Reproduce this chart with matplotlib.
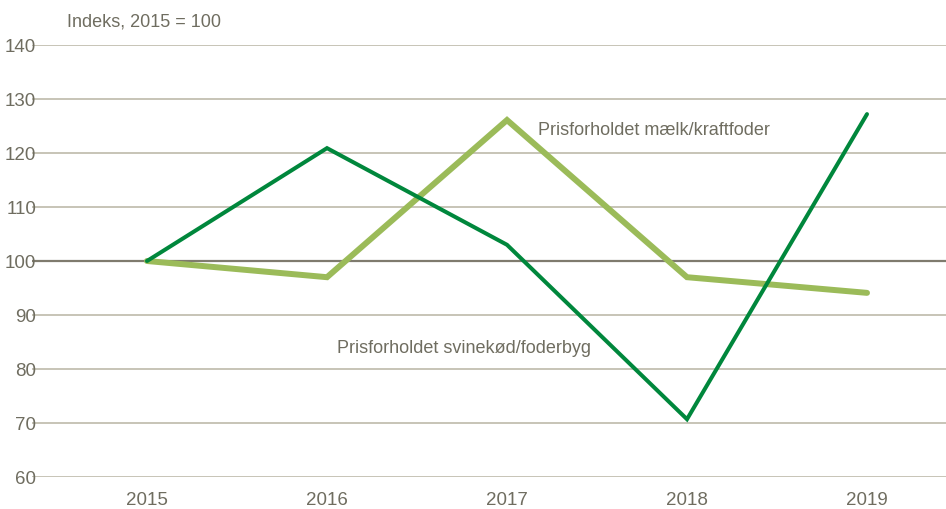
import matplotlib
matplotlib.use("Agg")
import matplotlib.pyplot as plt
from matplotlib import font_manager

years = [2015, 2016, 2017, 2018, 2019]
svinekoed_foderbyg = [100, 120.9, 103.0, 70.7, 127.2]
maelk_kraftfoder = [100, 97.0, 126.1, 97.0, 94.1]
y_ticks = [60, 70, 80, 90, 100, 110, 120, 130, 140]

installed = {f.name for f in font_manager.fontManager.ttflist}
family = "Liberation Sans Narrow" if "Liberation Sans Narrow" in installed else "Liberation Sans"
plt.rcParams['font.family'] = [family, 'DejaVu Sans']

text_color = '#6f6d60'
grid_color = '#b8b4a3'
dark_green = '#00873c'
light_green = '#9bbb59'

fig = plt.figure(figsize=(9.46, 5.10), dpi=100)
ax = fig.add_axes([32 / 946, 1 - 478 / 510, 1 - 32 / 946, (478 - 46) / 510])

ax.set_ylim(60, 140)
ax.set_xlim(2015 - 115 / 180, 2019 + 79 / 180)
ax.set_yticks(y_ticks)
ax.set_xticks(years)
ax.set_xticklabels([str(y) for y in years])

for v in y_ticks:
    if v == 100:
        ax.axhline(v, color='#7f7b6e', lw=1.6, zorder=1)
    else:
        ax.axhline(v, color=grid_color, lw=1.1, zorder=1)

ax.plot(years, svinekoed_foderbyg, color=dark_green, lw=2.9, zorder=3,
        solid_joinstyle='miter', solid_capstyle='round')
ax.plot(years, maelk_kraftfoder, color=light_green, lw=4.3, zorder=2,
        solid_joinstyle='miter', solid_capstyle='round')

for s in ax.spines.values():
    s.set_visible(False)
ax.tick_params(axis='both', length=0, labelsize=13.5, colors=text_color)
ax.tick_params(axis='y', pad=-3)
ax.tick_params(axis='x', pad=10)

fig.text(67 / 946, 1 - 22 / 510, 'Indeks, 2015 = 100', color=text_color,
         fontsize=13, va='center', ha='left')
ax.text(2017 + 31 / 180, 124.4, 'Prisforholdet mælk/kraftfoder', color=text_color,
        fontsize=13, va='center', ha='left')
ax.text(2016 + 10 / 180, 83.9, 'Prisforholdet svinekød/foderbyg', color=text_color,
        fontsize=13, va='center', ha='left')

fig.savefig('out.png', dpi=100)
